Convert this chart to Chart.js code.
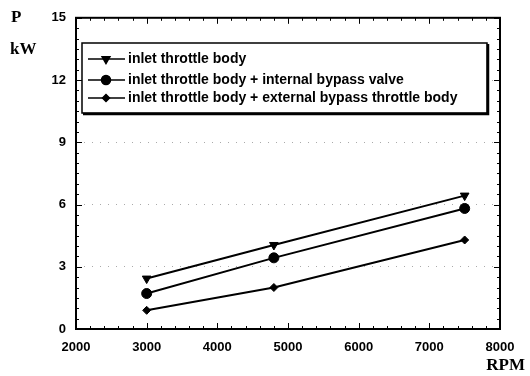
<!DOCTYPE html>
<html><head><meta charset="utf-8">
<script src="https://cdn.jsdelivr.net/npm/chart.js@4/dist/chart.umd.min.js"></script>
<style>html,body{margin:0;padding:0;background:#fff}#c{display:block}</style>
</head><body>
<div style="width:530px;height:376px"><canvas id="c" width="530" height="376"></canvas></div>
<script>
const rpm = [3000, 4800, 7500];
const inletThrottle = [2.43, 4.05, 6.43];
const internalBypass = [1.71, 3.43, 5.81];
const externalBypass = [0.9, 2.0, 4.29];
const seriesNames = [
  'inlet throttle body',
  'inlet throttle body + internal bypass valve',
  'inlet throttle body + external bypass throttle body'
];
const xTicks = [2000, 3000, 4000, 5000, 6000, 7000, 8000];
const yTicks = [0, 3, 6, 9, 12, 15];

const tickFont = {family: 'Liberation Sans, Arial, sans-serif', size: 13, weight: 'bold'};
const mk = (vals, style, r, rot) => ({
  data: rpm.map((x, i) => ({x, y: vals[i]})),
  borderColor: '#000', backgroundColor: '#000', borderWidth: 2,
  pointStyle: style, pointRadius: r, pointRotation: rot || 0, pointBorderWidth: 1,
  pointHoverRadius: r, tension: 0, fill: false
});
const datasets = [
  mk(inletThrottle, 'triangle', 5, 180),
  mk(internalBypass, 'circle', 5),
  mk(externalBypass, 'rectRot', 4)
];
datasets.forEach((d, i) => d.label = seriesNames[i]);

const frame = {
  id: 'frame',
  afterDatasetsDraw(chart) {
    const {ctx, chartArea: a, scales: {x, y}} = chart;
    ctx.save();
    ctx.strokeStyle = '#000';
    ctx.lineWidth = 1;
    for (let v = 2000; v <= 8000; v += 200) {
      const px = Math.round(x.getPixelForValue(v)) + 0.5;
      const len = v % 1000 === 0 ? 6 : 3;
      ctx.beginPath();
      ctx.moveTo(px, a.bottom); ctx.lineTo(px, a.bottom - len);
      ctx.moveTo(px, a.top); ctx.lineTo(px, a.top + len);
      ctx.stroke();
    }
    for (let v = 0; v <= 15.001; v += 0.5) {
      const py = Math.round(y.getPixelForValue(v)) + 0.5;
      const len = Math.abs(v % 3) < 0.01 ? 6 : 3;
      ctx.beginPath();
      ctx.moveTo(a.left, py); ctx.lineTo(a.left + len, py);
      ctx.moveTo(a.right, py); ctx.lineTo(a.right - len, py);
      ctx.stroke();
    }
    ctx.lineWidth = 2;
    ctx.strokeRect(a.left, a.top, a.right - a.left, a.bottom - a.top);

    // legend box
    const bx = 82, by = 43, bw = 405, bh = 70;
    ctx.fillStyle = '#fff';
    ctx.fillRect(bx, by, bw, bh);
    ctx.lineWidth = 1.5;
    ctx.strokeRect(bx, by, bw, bh);
    ctx.lineWidth = 2.5;
    ctx.beginPath();
    ctx.moveTo(bx + 1, by + bh + 1); ctx.lineTo(bx + bw + 1, by + bh + 1); ctx.lineTo(bx + bw + 1, by + 1);
    ctx.stroke();
    const rows = [59, 80, 98];
    ctx.font = 'bold 14px "Liberation Sans", Arial, sans-serif';
    ctx.textBaseline = 'middle';
    ctx.textAlign = 'left';
    datasets.forEach((d, i) => {
      const ry = rows[i];
      ctx.lineWidth = 1.5;
      ctx.strokeStyle = '#000';
      ctx.beginPath(); ctx.moveTo(88, ry); ctx.lineTo(125, ry); ctx.stroke();
      ctx.fillStyle = '#000';
      Chart.helpers.drawPoint(ctx, {pointStyle: d.pointStyle, radius: d.pointRadius - 0.5, rotation: d.pointRotation, borderWidth: 1}, 106, ry);
      ctx.fill();
      ctx.fillText(d.label, 128, ry);
    });

    ctx.fillStyle = '#000';
    ctx.font = 'bold 17px "Liberation Serif", "Times New Roman", serif';
    ctx.textAlign = 'left';
    ctx.fillText('P', 11, 18);
    ctx.fillText('kW', 10, 50);
    ctx.textAlign = 'right';
    ctx.fillText('RPM', 525, 366);
    ctx.restore();
  }
};

new Chart(document.getElementById('c'), {
  type: 'line',
  data: {datasets},
  options: {
    responsive: false, animation: false, events: [],
    layout: {padding: {top: 14, right: 30, left: 0, bottom: 0}},
    plugins: {legend: {display: false}, tooltip: {enabled: false}},
    scales: {
      x: {
        type: 'linear', min: 2000, max: 8000,
        afterBuildTicks: s => { s.ticks = xTicks.map(v => ({value: v})); },
        afterFit: s => { s.height = 47; },
        grid: {display: false, drawTicks: false},
        border: {display: false},
        ticks: {color: '#000', font: tickFont, padding: 11, maxRotation: 0, autoSkip: false,
                callback: v => String(v)}
      },
      y: {
        type: 'linear', min: 0, max: 15,
        afterBuildTicks: s => { s.ticks = yTicks.map(v => ({value: v})); },
        afterFit: s => { s.width = 76; },
        grid: {color: '#aaa', lineWidth: 1, drawTicks: false, borderDash: [1, 7]},
        border: {display: false, dash: [1, 7]},
        ticks: {color: '#000', font: tickFont, padding: 10, autoSkip: false,
                callback: v => String(v)}
      }
    }
  },
  plugins: [frame]
});
</script>
</body></html>
